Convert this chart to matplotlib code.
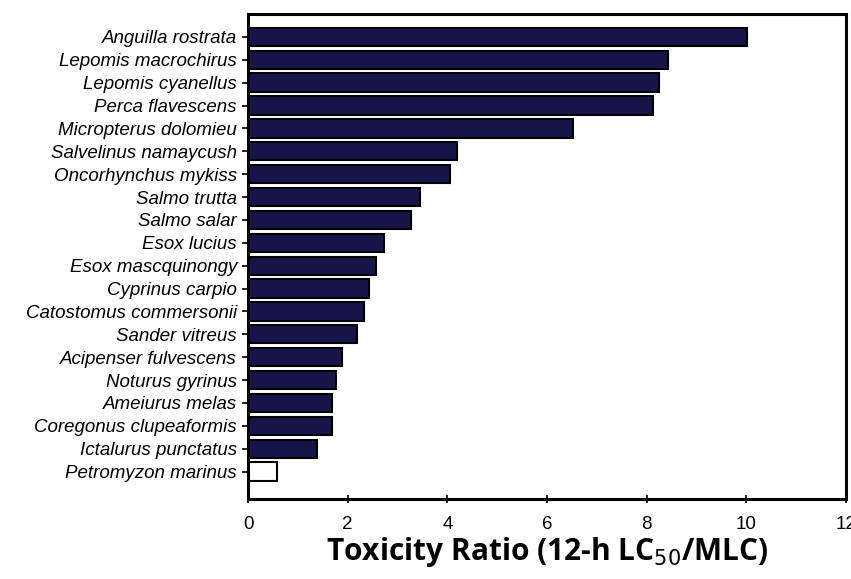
import matplotlib.pyplot as plt
import numpy as np

species = ['Anguilla rostrata', 'Lepomis macrochirus', 'Lepomis cyanellus',
           'Perca flavescens', 'Micropterus dolomieu', 'Salvelinus namaycush',
           'Oncorhynchus mykiss', 'Salmo trutta', 'Salmo salar', 'Esox lucius',
           'Esox mascquinongy', 'Cyprinus carpio', 'Catostomus commersonii',
           'Sander vitreus', 'Acipenser fulvescens', 'Noturus gyrinus',
           'Ameiurus melas', 'Coregonus clupeaformis', 'Ictalurus punctatus',
           'Petromyzon marinus']
ratio = [10.02, 8.43, 8.25, 8.12, 6.52, 4.20, 4.05, 3.45, 3.28, 2.73,
         2.57, 2.42, 2.33, 2.18, 1.89, 1.76, 1.69, 1.69, 1.38, 0.59]
xticks = [0, 2, 4, 6, 8, 10, 12]

fig = plt.figure(figsize=(8.51, 5.79), dpi=100)
ax = fig.add_axes([248 / 851, 1 - 499 / 579, 598 / 851, (499 - 14) / 579])

y = np.arange(len(species))
colors = ['#15154a'] * (len(species) - 1) + ['white']
ax.barh(y, ratio, height=0.8, color=colors, edgecolor='black', linewidth=1.5)

ax.set_ylim(len(species) - 1 + 1.2, -1)
ax.set_xlim(0, 12)
ax.set_yticks(y)
ax.set_yticklabels(species, fontstyle='italic', family='Liberation Sans', fontsize=13.5)
ax.set_xticks(xticks)
ax.set_xticklabels([str(t) for t in xticks], family='Liberation Sans', fontsize=13.5)
ax.tick_params(axis='y', direction='out', length=4, width=1.2, pad=4)
ax.tick_params(axis='x', direction='inout', length=6, width=1.2, pad=9)
for s in ax.spines.values():
    s.set_linewidth(2.2)

ax.set_xlabel('Toxicity Ratio (12-h LC$_{50}$/MLC)', family='Open Sans',
              fontweight='bold', fontsize=21.5, labelpad=2)

fig.savefig('out.png', dpi=100)
